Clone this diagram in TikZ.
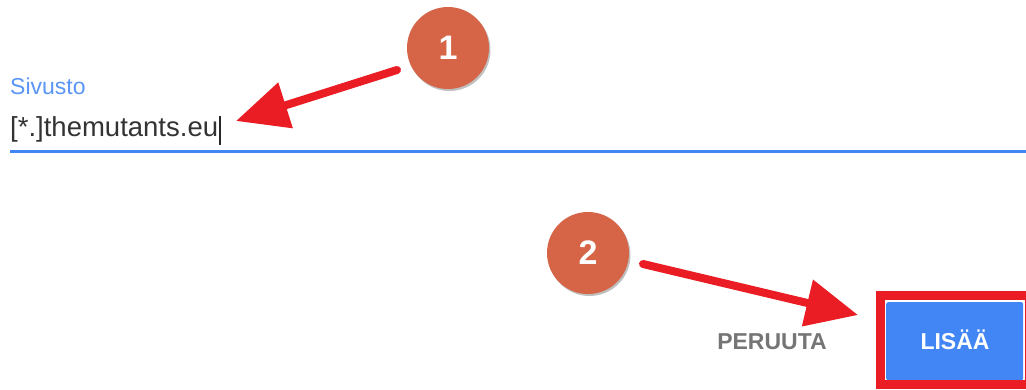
\documentclass[tikz,border=0pt]{standalone}
\usepackage{fontspec}
\setmainfont{Liberation Sans}
\usetikzlibrary{arrows.meta,shadows}
\definecolor{labelblue}{RGB}{90,150,245}
\definecolor{fieldtext}{RGB}{51,51,51}
\definecolor{lineblue}{RGB}{66,133,244}
\definecolor{badge}{RGB}{214,100,70}
\definecolor{arrowred}{RGB}{234,28,36}
\definecolor{cancelgray}{RGB}{117,117,117}
\definecolor{btnblue}{RGB}{66,133,244}
\tikzset{
  badgenode/.style={circle, fill=badge, minimum size=82pt, inner sep=0pt,
    text=white, font=\fontsize{34}{36}\selectfont\bfseries,
    drop shadow={shadow xshift=1.5pt, shadow yshift=-2pt, opacity=0.25, fill=black}},
  pointer/.style={draw=arrowred, line width=8pt, line cap=round,
    -{Triangle[length=52pt,width=46pt]}},
  btnlabel/.style={font=\fontsize{23}{25}\selectfont\bfseries}
}
\begin{document}
\begin{tikzpicture}[x=1pt,y=-1pt]
\useasboundingbox (0,0) rectangle (1026,390);
\clip (0,0) rectangle (1026,390);
\fill[white] (0,0) rectangle (1026,390);
% field
\node[anchor=base west, inner sep=0pt, text=labelblue, font=\fontsize{23}{25}\selectfont] (label) at (10,95) {Sivusto};
\node[anchor=base west, inner sep=0pt, text=fieldtext, font=\fontsize{27.5}{30}\selectfont] (value) at (10,137) {[*.]themutants.eu};
\draw[black!85, line width=2pt] ([xshift=2pt]value.base east) ++(0,-21) coordinate (curtop) -- ++(0,29) coordinate (curbot);
\coordinate (lineL) at (10,152);
\coordinate (lineR) at (1026,152);
\draw[lineblue, line width=3pt] (lineL) -- (lineR);
% badge 1
\node[badgenode] (b1) at (448,48) {1};
\coordinate (t1) at (236,121);
\coordinate (s1) at (397,70);
\draw[pointer] (s1) -- (t1);
% buttons
\node[anchor=base, inner sep=0pt, text=cancelgray, btnlabel] (cancel) at (772,349) {PERUUTA};
\node[fill=btnblue, rounded corners=2pt, minimum width=137pt, minimum height=78pt, inner sep=0pt, text=white, btnlabel, anchor=north west] (add) at (886,302) {};
\node[text=white, btnlabel, anchor=base, inner sep=0pt] (addtext) at (955,349) {LISÄÄ};
\draw[arrowred, line width=9pt] ([shift={(-6pt,6pt)}]add.north west) rectangle ([shift={(6pt,-4pt)}]add.south east);
% badge 2
\node[badgenode] (b2) at (588,253) {2};
\coordinate (s2) at (643,264);
\coordinate (t2) at (858,315);
\draw[pointer] (s2) -- (t2);
\end{tikzpicture}
\end{document}
